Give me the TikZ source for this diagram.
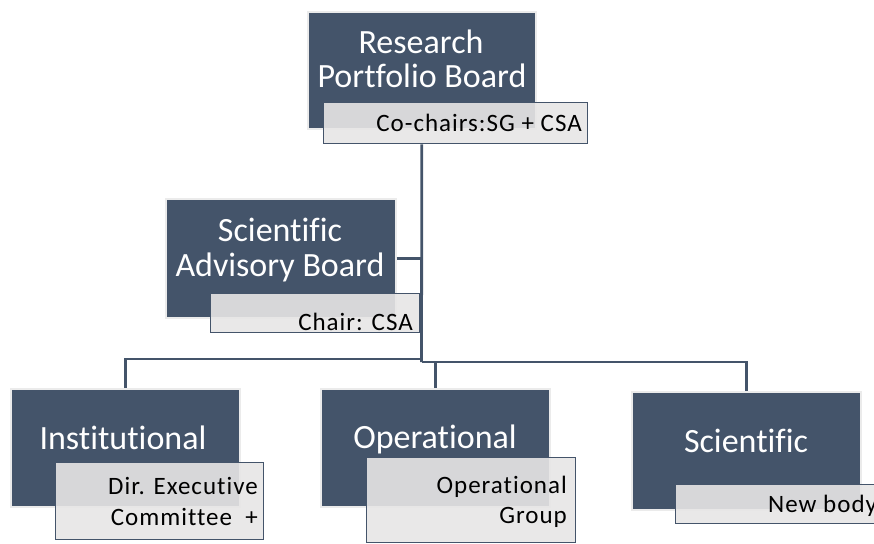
\documentclass[tikz,border=0pt]{standalone}
\usepackage{fontspec}
\setmainfont[Ligatures=NoCommon]{Carlito}
\newfontfamily\tagfont[LetterSpace=4,Ligatures=NoCommon]{Carlito}
\definecolor{slate}{HTML}{44546A}
\definecolor{paper}{HTML}{E7E6E6}
\begin{document}
\begin{tikzpicture}[x=1pt,y=-1pt,
  darkbox/.style={draw=black!8, line width=1.6pt, fill=slate, inner sep=0pt,
    anchor=north west},
  tagbox/.style={draw=slate, line width=1.4pt, fill=paper, fill opacity=0.9,
    inner sep=0pt, anchor=north west},
  title/.style={text=white, inner sep=0pt, font=\fontsize{34}{36}\selectfont},
  tagtext/.style={text=black, inner sep=0pt, font=\tagfont\fontsize{25}{27}\selectfont},
  link/.style={draw=slate, line width=2.8pt}]
\useasboundingbox (0,0) rectangle (874,543);

% top board
\node[darkbox, minimum width=228pt, minimum height=117pt] (rpb) at (307,11) {};
\node[tagbox, minimum width=264pt, minimum height=41pt] (rpbl) at (323,102) {};
\node[title, anchor=base] (rpbt1) at (421,53) {Research};
\node[title, anchor=base] (rpbt2) at (422,87) {Portfolio Board};
\node[tagtext, anchor=base east] (rpbc) at (582,131) {Co-chairs:SG + CSA};

% advisory board
\node[darkbox, minimum width=230pt, minimum height=119pt] (sab) at (165,198) {};
\node[tagbox, minimum width=209pt, minimum height=39pt] (sabl) at (210,293) {};
\node[title, anchor=base] (sabt1) at (280,241) {Scientific};
\node[title, anchor=base] (sabt2) at (280,276) {Advisory Board};
\node[tagtext, anchor=base east] (sabc) at (413,330) {Chair: CSA};

% bottom row
\node[darkbox, minimum width=229pt, minimum height=118pt] (inst) at (10,388) {};
\node[tagbox, minimum width=208pt, minimum height=77pt] (instl) at (55,462) {};
\node[title, anchor=base] (instt) at (123,449) {Institutional};
\node[tagtext, anchor=base east] (instc1) at (258,494) {Dir. Executive};
\node[tagtext, anchor=base east] (instc2) at (258,525) {Committee~~+};

\node[darkbox, minimum width=229pt, minimum height=118pt] (ops) at (320,388) {};
\node[tagbox, minimum width=209pt, minimum height=85pt] (opsl) at (366,457) {};
\node[title, anchor=base] (opst) at (435,448) {Operational};
\node[tagtext, anchor=base east] (opsc1) at (567,493) {Operational};
\node[tagtext, anchor=base east] (opsc2) at (567,523) {Group};

\node[darkbox, minimum width=229pt, minimum height=118pt] (sci) at (631,391) {};
\node[tagbox, minimum width=220pt, minimum height=39pt] (scil) at (675,484) {};
\node[title, anchor=base] (scit) at (746,452) {Scientific};
\node[tagtext, anchor=base west] (scic) at (768,512) {New body};

% connectors
\coordinate (hub) at (421.5,360);
\coordinate (hubl) at (421.5,359);
\coordinate (hubr) at (421.5,362);
\draw[link] (rpb.center |- rpbl.south) -- (hubr);
\draw[link] (sab.east) -- (sab.east -| hub);
\draw[link] (hubl) -| (inst.north);
\draw[link] (hubr) -| (sci.north);
\draw[link] (ops.north |- hubr) -- (ops.north);
\end{tikzpicture}
\end{document}
